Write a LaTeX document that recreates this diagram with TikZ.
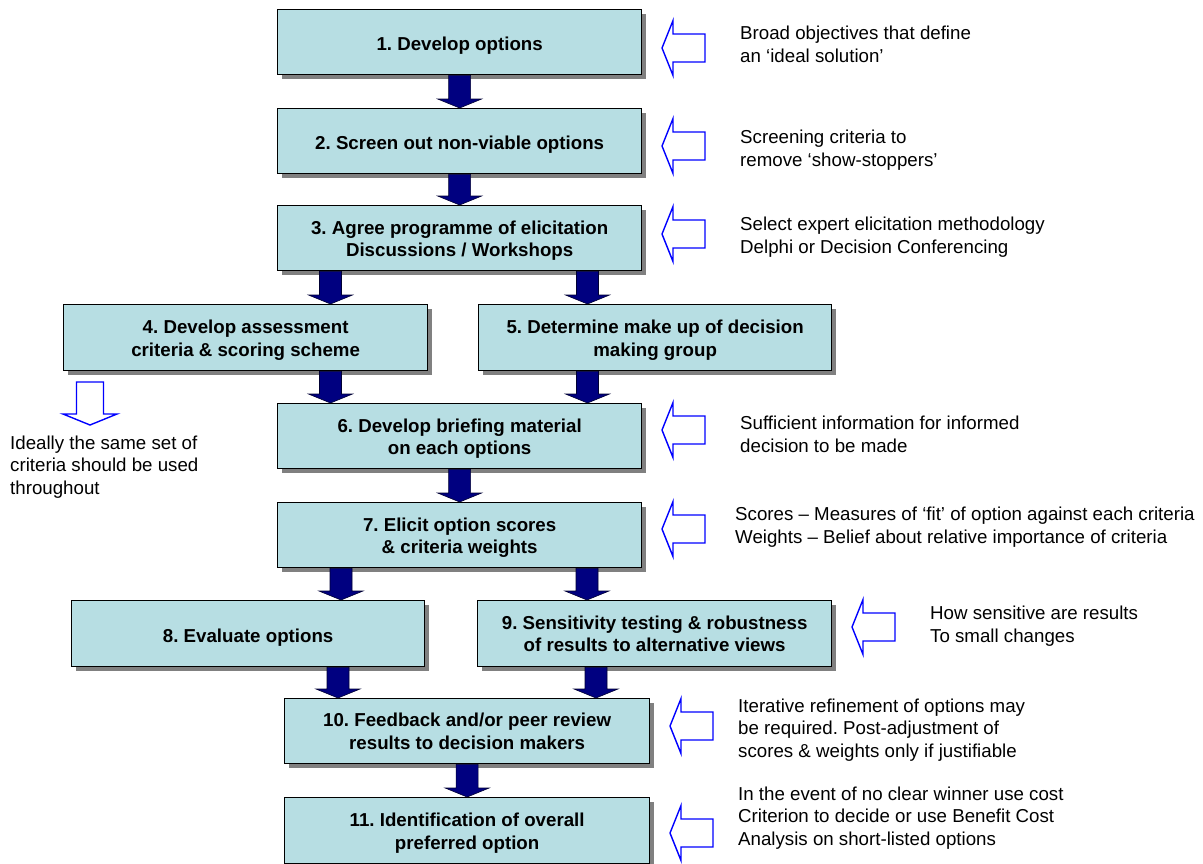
\documentclass[tikz,border=0pt]{standalone}
\usepackage{fontspec}
\setmainfont{Liberation Sans}
\usetikzlibrary{shadows,calc}

\definecolor{boxblue}{RGB}{183,222,227}
\definecolor{navyfill}{RGB}{0,0,128}
\definecolor{hollowblue}{RGB}{0,0,255}
\newcommand{\stepfnt}{\fontsize{18.7}{22.6}\selectfont\bfseries\frenchspacing}
\newcommand{\notefnt}{\fontsize{18.7}{22.8}\selectfont\frenchspacing}

\begin{document}
\begin{tikzpicture}[x=1pt, y=-1pt,
  textdrop/.style={execute at begin node={\rule{0pt}{#1}}},
  stepbox/.style={rectangle, draw=black, line width=1.3pt, fill=boxblue,
    anchor=north west, align=center, inner sep=0pt, font=\stepfnt,
    minimum width=364pt, minimum height=65pt, textdrop=21.5pt,
    drop shadow={shadow xshift=4pt, shadow yshift=-4pt, fill=black!50, opacity=1}},
  twoline/.style={textdrop=41pt},
  note/.style={anchor=west, align=left, inner sep=0pt, font=\notefnt},
  navyarrow/.style={draw=black!60!navyfill, line width=0.6pt, fill=navyfill,
    to path={let \p1=(\tikztostart), \p2=(\tikztotarget) in
      (\x1-11pt,\y1) -- (\x1+11pt,\y1) -- (\x1+11pt,\y2+9pt) -- (\x1+22pt,\y2+9pt)
      -- (\x1,\y2) -- (\x1-22pt,\y2+9pt) -- (\x1-11pt,\y2+9pt) -- cycle}},
  pics/hollowleft/.style={code={
    \draw[hollowblue, line width=1.4pt] (0,0) -- (11,-27.5) -- (11,-14) -- (43,-14)
      -- (43,14) -- (11,14) -- (11,27.5) -- cycle;}},
  pics/hollowdown/.style={code={
    \draw[hollowblue, line width=1.4pt] (0,0) -- (-27,-11) -- (-13.5,-11) -- (-13.5,-43)
      -- (13.5,-43) -- (13.5,-11) -- (27,-11) -- cycle;}}
]
\useasboundingbox (0,0) rectangle (1203,863);

% process steps
\node [stepbox] (b1) at (277,9) {1. Develop options};
\node [stepbox] (b2) at (277,108) {2. Screen out non-viable options};
\node [stepbox, twoline] (b3) at (277,205) {3. Agree programme of elicitation\\Discussions / Workshops};
\node [stepbox, twoline, minimum height=66pt] (b4) at (63,304) {4. Develop assessment\\criteria \& scoring scheme};
\node [stepbox, twoline, minimum width=353pt, minimum height=66pt] (b5) at (478,304) {5. Determine make up of decision\\making group};
\node [stepbox, twoline] (b6) at (277,403) {6. Develop briefing material\\on each options};
\node [stepbox, twoline] (b7) at (277,502) {7. Elicit option scores\\\& criteria weights};
\node [stepbox, minimum width=353pt, minimum height=66pt] (b8) at (71,600) {8. Evaluate options};
\node [stepbox, minimum width=354pt, minimum height=66pt] (b9) at (477,600) {9. Sensitivity testing \& robustness\\of results to alternative views};
\node [stepbox, minimum width=365pt] (b10) at (284,698) {10. Feedback and/or peer review\\results to decision makers};
\node [stepbox, twoline, minimum width=365pt, minimum height=66pt] (b11) at (284,797) {11. Identification of overall\\preferred option};

% columns of the block arrows
\coordinate (x34) at (330.5,0);
\coordinate (x35) at (587.5,0);
\coordinate (x78) at (341,0);
\coordinate (x79) at (587,0);
\coordinate (x810) at (338,0);
\coordinate (x910) at (596,0);

\draw [navyarrow] (b1.south) to (b2.north);
\draw [navyarrow] (b2.south) to (b3.north);
\draw [navyarrow] (b3.south -| x34) to (b4.north);
\draw [navyarrow] (b3.south -| x35) to (b5.north);
\draw [navyarrow] (b4.south -| x34) to (b6.north);
\draw [navyarrow] (b5.south -| x35) to (b6.north);
\draw [navyarrow] (b6.south) to (b7.north);
\draw [navyarrow] (b7.south -| x78) to (b8.north);
\draw [navyarrow] (b7.south -| x79) to (b9.north);
\draw [navyarrow] (b8.south -| x810) to (b10.north);
\draw [navyarrow] (b9.south -| x910) to (b10.north);
\draw [navyarrow] (b10.south) to (b11.north);

% inputs
\pic at (662,48) {hollowleft};
\pic at (662,146) {hollowleft};
\pic at (662,234) {hollowleft};
\pic at (662,430) {hollowleft};
\pic at (662,529) {hollowleft};
\pic at (852,627) {hollowleft};
\pic at (670,726) {hollowleft};
\pic at (670,833) {hollowleft};
\pic at (90,425) {hollowdown};

\node [note] (t1) at (740,44) {Broad objectives that define\\an ‘ideal solution’};
\node [note] (t2) at (740,150) {Screening criteria to\\remove ‘show-stoppers’};
\node [note] (t3) at (740,237) {Select expert elicitation methodology\\Delphi or Decision Conferencing};
\node [note] (t4) at (10,467) {Ideally the same set of\\criteria should be used\\throughout};
\node [note] (t6) at (740,434) {Sufficient information for informed\\decision to be made};
\node [note] (t7) at (735,527) {Scores – Measures of ‘fit’ of option against each criteria\\Weights – Belief about relative importance of criteria};
\node [note] (t9) at (930,626) {How sensitive are results\\To small changes};
\node [note] (t10) at (738,730) {Iterative refinement of options may\\be required. Post-adjustment of\\scores \& weights only if justifiable};
\node [note] (t11) at (738,818) {In the event of no clear winner use cost\\Criterion to decide or use Benefit Cost\\Analysis on short-listed options};

\end{tikzpicture}
\end{document}
